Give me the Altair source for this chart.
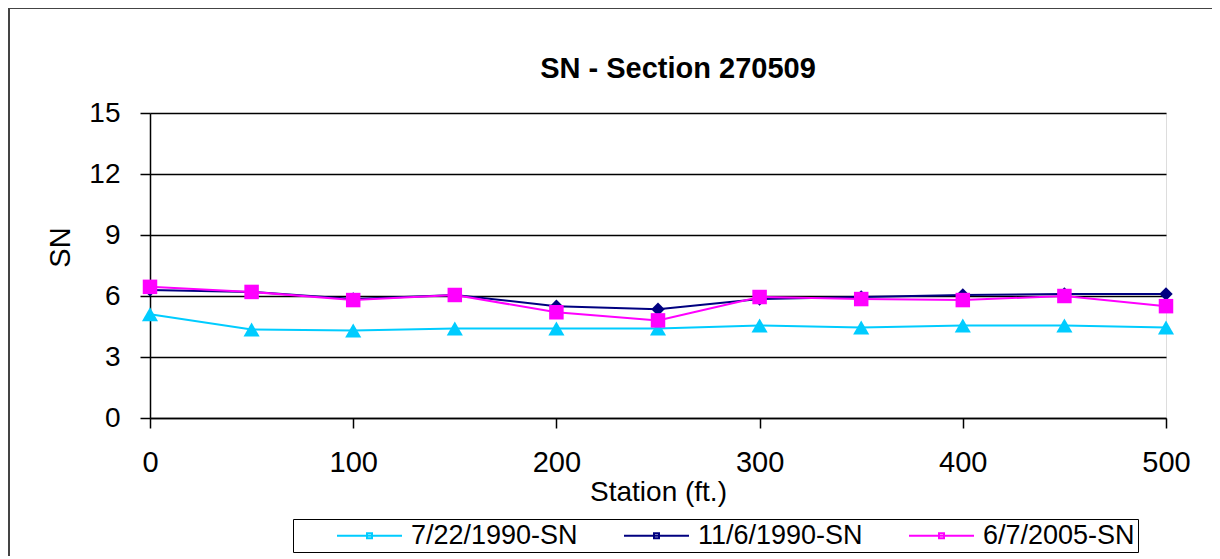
import altair as alt
import pandas as pd

stations = [0, 50, 100, 150, 200, 250, 300, 350, 400, 450, 500]
sn_07_22_1990 = [5.1, 4.35, 4.3, 4.4, 4.4, 4.4, 4.55, 4.45, 4.55, 4.55, 4.45]
sn_11_06_1990 = [6.3, 6.2, 5.85, 6.05, 5.5, 5.35, 5.85, 5.95, 6.05, 6.1, 6.1]
sn_06_07_2005 = [6.45, 6.2, 5.8, 6.05, 5.2, 4.8, 5.95, 5.85, 5.8, 6.0, 5.5]

series_names = ["7/22/1990-SN", "11/6/1990-SN", "6/7/2005-SN"]
series_colors = ["#00CCFF", "#000080", "#FF00FF"]
marker_shapes = ["triangle-up", "diamond", "square"]
marker_sizes = [260, 180, 210]
chart_title = "SN - Section 270509"
x_ticks = [0, 100, 200, 300, 400, 500]
y_ticks = [0, 3, 6, 9, 12, 15]

rows = []
for name, vals in zip(series_names, [sn_07_22_1990, sn_11_06_1990, sn_06_07_2005]):
    for s, v in zip(stations, vals):
        rows.append({"station": s, "sn": v, "series": name})
df = pd.DataFrame(rows)

FONT = "Liberation Sans"

x_enc = alt.X(
    "station:Q",
    scale=alt.Scale(domain=[0, 500], nice=False, zero=False),
    axis=alt.Axis(
        values=x_ticks, title="Station (ft.)", grid=False,
        domainColor="black", domainWidth=1.5,
        tickColor="black", tickSize=10, tickWidth=1.5,
        labelFont=FONT, labelFontSize=29, labelColor="black", labelPadding=20,
        labelFlush=False,
        titleFont=FONT, titleFontSize=28, titleFontWeight="normal", titleColor="black",
        titleX=508, titleY=82, titleBaseline="alphabetic",
    ),
)
y_enc = alt.Y(
    "sn:Q",
    scale=alt.Scale(domain=[0, 15], nice=False),
    axis=alt.Axis(
        values=y_ticks, title="SN", grid=True, gridColor="black", gridWidth=1.5,
        domainColor="black", domainWidth=1.5,
        tickColor="black", tickSize=10, tickWidth=1.5,
        labelFont=FONT, labelFontSize=28, labelColor="black", labelPadding=20,
        labelFlush=False,
        titleFont=FONT, titleFontSize=29, titleFontWeight="normal", titleColor="black",
        titleX=-90, titleY=134, titleAngle=270, titleBaseline="middle", titleAlign="center",
    ),
)

line_scale = alt.Scale(domain=series_names, range=series_colors)

leg = alt.Legend(
    orient="none", legendX=143, legendY=406, direction="horizontal",
    strokeColor="black", padding=3,
    labelFont=FONT, labelFontSize=27, labelColor="black", labelLimit=400,
    symbolType="M-2.6,0H2.6M-0.2,-0.2H0.2V0.2H-0.2Z",
    symbolSize=625, symbolStrokeWidth=2, symbolOffset=60, labelOffset=28,
    columnPadding=5,
)

frame = alt.Chart(alt.Data(values=[{"f": 1}])).mark_rect(
    fillOpacity=0, stroke="#444444", strokeWidth=2
).encode(
    x=alt.value(-141), x2=alt.value(1100), y=alt.value(-105), y2=alt.value(470)
)

title_text = alt.Chart(alt.Data(values=[{"t": chart_title}])).mark_text(
    font=FONT, fontSize=29, fontWeight="bold", color="black",
    align="center", baseline="alphabetic",
).encode(x=alt.value(528), y=alt.value(-35), text="t:N")

lines = alt.Chart(df).mark_line(strokeWidth=2).encode(
    x=x_enc, y=y_enc,
    color=alt.Color("series:N", scale=line_scale, legend=leg, title=None),
)

point_layers = []
for name, col, shp, sz in zip(series_names, series_colors, marker_shapes, marker_sizes):
    point_layers.append(
        alt.Chart(df).transform_filter(alt.datum.series == name).mark_point(
            shape=shp, filled=True, color=col, size=sz, opacity=1
        ).encode(x=x_enc, y=y_enc)
    )

chart = alt.layer(frame, title_text, lines, *point_layers).properties(
    width=1016, height=305,
    autosize=alt.AutoSizeParams(type="none"),
    padding={"left": 142, "top": 105, "right": 46, "bottom": 138},
).configure_view(
    stroke="#808080", strokeWidth=1.5
).configure(background="white")

chart.save("out.html", embed_options={"renderer": "svg", "actions": False})
